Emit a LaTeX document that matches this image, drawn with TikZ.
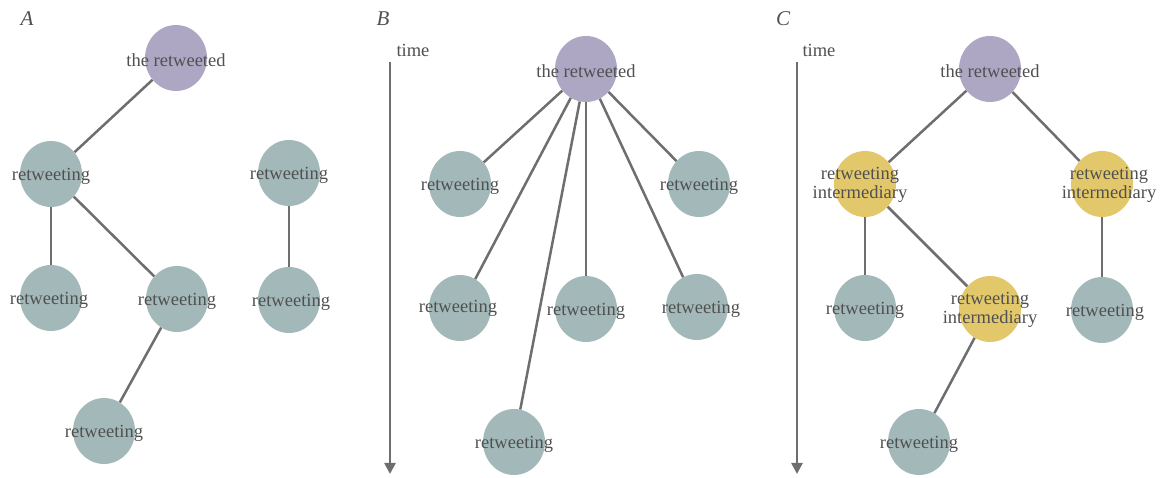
\documentclass[tikz,border=0pt]{standalone}
\usepackage{fontspec}
\setmainfont{Liberation Serif}
\usetikzlibrary{shapes.geometric,arrows.meta}
\definecolor{purp}{HTML}{ADA7C4}
\definecolor{teal}{HTML}{A3B9B9}
\definecolor{yel}{HTML}{E3C86B}
\definecolor{edgec}{HTML}{6E6E6E}
\definecolor{txt}{HTML}{505050}
\begin{document}
\begin{tikzpicture}[x=1pt,y=-1pt,
  blob/.style={ellipse,minimum width=62pt,minimum height=66pt,inner sep=0pt,draw=none},
  src/.style={blob,fill=purp},
  rtw/.style={blob,fill=teal},
  mid/.style={blob,fill=yel},
  lbl/.style={text=txt,font=\fontsize{18.5}{19}\selectfont,inner sep=0pt,align=center,yshift=-2pt},
  tlbl/.style={text=txt,font=\fontsize{18.5}{19}\selectfont,inner sep=0pt},
  panel/.style={text=txt,font=\fontsize{21}{22}\selectfont\itshape,inner sep=0pt},
  link/.style={draw=edgec,line width=2.5pt},
  timeax/.style={draw=edgec,line width=2.5pt,-{Triangle[width=11pt,length=11pt]}}]
\useasboundingbox (0,0) rectangle (1163,478);

% ---------- Panel A ----------
\node[panel] (pA) at (27,19) {A};
\node[src,label={[lbl]center:the retweeted}] (a0) at (176,58) {};
\node[rtw,label={[lbl]center:retweeting}] (a1) at (51,174) {};
\node[rtw,label={[lbl]center:retweeting}] (a2) at (289,173) {};
\node[rtw,label={[lbl,xshift=-2pt]center:retweeting}] (a3) at (51,298) {};
\node[rtw,label={[lbl]center:retweeting}] (a4) at (177,299) {};
\node[rtw,label={[lbl,xshift=2pt]center:retweeting}] (a5) at (289,300) {};
\node[rtw,label={[lbl]center:retweeting}] (a6) at (104,431) {};
\draw[link] (a0) -- (a1);
\draw[link] (a1) -- (a3);
\draw[link] (a1) -- (a4);
\draw[link] (a4) -- (a6);
\draw[link] (a2) -- (a5);

% ---------- Panel B ----------
\node[panel] (pB) at (383,19) {B};
\node[tlbl] (tB) at (413,50) {time};
\coordinate (tBs) at (390,62);
\coordinate (tBe) at (390,474);
\draw[timeax] (tBs) -- (tBe);
\node[src,label={[lbl]center:the retweeted}] (b0) at (586,69) {};
\node[rtw,label={[lbl]center:retweeting}] (b1) at (460,184) {};
\node[rtw,label={[lbl]center:retweeting}] (b2) at (699,184) {};
\node[rtw,label={[lbl,xshift=-2pt,yshift=2pt]center:retweeting}] (b3) at (460,308) {};
\node[rtw,label={[lbl]center:retweeting}] (b4) at (586,309) {};
\node[rtw,label={[lbl,xshift=4pt]center:retweeting}] (b5) at (697,307) {};
\node[rtw,label={[lbl]center:retweeting}] (b6) at (514,442) {};
\draw[link] (b0) -- (b1);
\draw[link] (b0) -- (b2);
\draw[link] (b0) -- (b3);
\draw[link] (b0) -- (b4);
\draw[link] (b0) -- (b5);
\draw[link] (b0) -- (b6);

% ---------- Panel C ----------
\node[panel] (pC) at (783,19) {C};
\node[tlbl] (tC) at (819,50) {time};
\coordinate (tCs) at (797,62);
\coordinate (tCe) at (797,474);
\draw[timeax] (tCs) -- (tCe);
\node[src,label={[lbl]center:the retweeted}] (c0) at (990,69) {};
\node[mid,label={[lbl,xshift=-5pt,yshift=1pt]center:retweeting\\intermediary}] (c1) at (865,184) {};
\node[mid,label={[lbl,xshift=7pt,yshift=1pt]center:retweeting\\intermediary}] (c2) at (1102,184) {};
\node[rtw,label={[lbl]center:retweeting}] (c3) at (865,308) {};
\node[mid,label={[lbl,yshift=1pt]center:retweeting\\intermediary}] (c4) at (990,309) {};
\node[rtw,label={[lbl,xshift=3pt]center:retweeting}] (c5) at (1102,310) {};
\node[rtw,label={[lbl]center:retweeting}] (c6) at (919,442) {};
\draw[link] (c0) -- (c1);
\draw[link] (c0) -- (c2);
\draw[link] (c1) -- (c3);
\draw[link] (c1) -- (c4);
\draw[link] (c4) -- (c6);
\draw[link] (c2) -- (c5);
\end{tikzpicture}
\end{document}
